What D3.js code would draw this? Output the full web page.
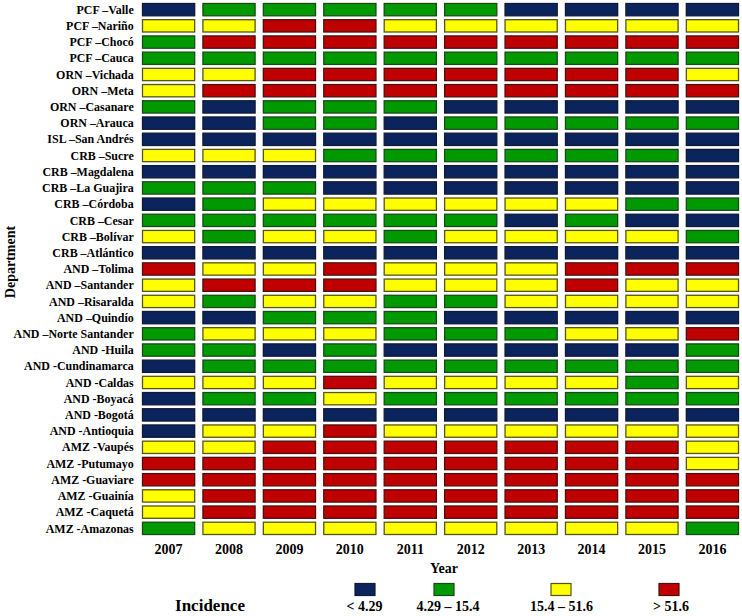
<!DOCTYPE html>
<html>
<head>
<meta charset="utf-8">
<script src="https://cdn.jsdelivr.net/npm/d3@7/dist/d3.min.js"></script>
<style>
  html, body { margin: 0; padding: 0; background: #fff; }
  svg { display: block; }
  text { font-family: "Liberation Serif", "Times New Roman", serif; font-weight: bold; fill: #000; }
</style>
</head>
<body>
<svg id="chart" width="742" height="616"></svg>
<script>
const years = ["2007","2008","2009","2010","2011","2012","2013","2014","2015","2016"];
const departments = [
  "PCF –Valle","PCF –Nariño","PCF –Chocó","PCF –Cauca",
  "ORN –Vichada","ORN –Meta","ORN –Casanare","ORN –Arauca",
  "ISL –San Andrés",
  "CRB –Sucre","CRB –Magdalena","CRB –La Guajira","CRB –Córdoba","CRB –Cesar","CRB –Bolívar","CRB –Atlántico",
  "AND –Tolima","AND –Santander","AND –Risaralda","AND –Quindío","AND –Norte Santander",
  "AND -Huila","AND -Cundinamarca","AND -Caldas","AND -Boyacá","AND -Bogotá","AND -Antioquia",
  "AMZ -Vaupés","AMZ -Putumayo","AMZ -Guaviare","AMZ -Guainía","AMZ -Caquetá","AMZ -Amazonas"
];
// incidence class per department per year: 0 "< 4.29", 1 "4.29 – 15.4", 2 "15.4 – 51.6", 3 "> 51.6"
const incidenceClass = [
  [0,1,1,1,1,1,0,0,0,0],
  [2,2,3,3,2,2,2,2,2,2],
  [1,3,3,3,3,3,3,3,3,3],
  [1,1,1,1,1,1,1,1,1,1],
  [2,2,3,3,3,3,3,3,3,2],
  [2,3,3,3,3,3,3,3,3,3],
  [1,0,1,1,1,0,0,0,0,0],
  [0,0,1,1,0,1,1,1,1,1],
  [0,0,0,0,0,0,0,0,0,0],
  [2,2,2,1,1,1,1,1,1,0],
  [0,0,0,0,0,0,0,0,0,0],
  [1,1,1,0,0,0,0,0,0,0],
  [0,1,2,2,2,2,2,2,1,1],
  [1,1,1,1,1,1,0,1,0,0],
  [2,1,2,2,1,2,2,2,2,1],
  [0,0,0,0,0,0,0,0,0,0],
  [3,2,2,3,2,2,2,3,3,3],
  [2,3,3,3,2,2,2,3,2,2],
  [2,1,2,2,1,1,2,2,2,2],
  [0,0,1,1,1,0,0,0,0,0],
  [1,2,2,2,1,1,1,2,2,3],
  [1,1,0,1,0,0,0,0,0,1],
  [0,1,1,1,1,1,1,1,1,1],
  [2,2,2,3,2,2,2,2,1,2],
  [0,1,1,2,1,1,1,1,1,1],
  [0,0,0,0,0,0,0,0,0,0],
  [0,2,2,3,2,2,2,2,2,2],
  [2,2,3,3,3,3,3,3,3,2],
  [3,3,3,3,3,3,3,3,3,2],
  [3,3,3,3,3,3,3,3,3,3],
  [2,3,3,3,3,3,3,3,3,3],
  [2,3,3,3,3,3,3,3,3,3],
  [1,2,2,2,2,2,2,2,2,1]
];
const classLabels = ["< 4.29", "4.29 – 15.4", "15.4 – 51.6", "> 51.6"];
const classColors = ["#0b245e", "#009a00", "#ffff00", "#c00000"];
const classStrokes = ["#111a33", "#1a4a1a", "#55551a", "#4a1010"];

const cells = [];
departments.forEach((d, i) => years.forEach((y, j) => cells.push({dept: d, year: y, cls: incidenceClass[i][j]})));

const svg = d3.select("#chart");

const x = d3.scaleBand().domain(years).range([142, 739]).paddingInner(0.12).paddingOuter(0);
const y = d3.scaleBand().domain(departments).range([3, 535]).paddingInner(0.18).paddingOuter(0);
const color = d3.scaleOrdinal().domain([0,1,2,3]).range(classColors);
const stroke = d3.scaleOrdinal().domain([0,1,2,3]).range(classStrokes);

svg.append("g").selectAll("rect").data(cells).join("rect")
  .attr("x", d => x(d.year) + 0.5)
  .attr("y", d => y(d.dept) + 0.5)
  .attr("width", x.bandwidth() - 1)
  .attr("height", y.bandwidth() - 1)
  .attr("fill", d => color(d.cls))
  .attr("stroke", d => stroke(d.cls))
  .attr("stroke-width", 1.3);

// y axis labels
const yAxis = d3.axisLeft(y).tickSize(0).tickPadding(9);
const gy = svg.append("g").attr("transform", "translate(142,0)").call(yAxis);
gy.select(".domain").remove();
gy.selectAll("text")
  .style("font-size", "13px").style("font-family", "'Liberation Serif', serif").style("font-weight", "bold")
  .attr("transform", "scale(0.92,1)");

// x axis labels
const xAxis = d3.axisBottom(x).tickSize(0).tickPadding(4);
const gx = svg.append("g").attr("transform", "translate(0,540)").call(xAxis);
gx.select(".domain").remove();
gx.selectAll("text").style("font-size", "14px").style("font-family", "'Liberation Serif', serif").style("font-weight", "bold");

svg.append("text").attr("x", 444).attr("y", 573).attr("text-anchor", "middle")
  .style("font-size", "14px").text("Year");
svg.append("text").attr("transform", "translate(15,262) rotate(-90)").attr("text-anchor", "middle")
  .style("font-size", "14px").text("Department");

// legend
const legendCenters = [365, 444, 561, 669];
const legendTextCenters = [364.5, 448, 561.5, 671];
const lg = svg.append("g");
lg.selectAll("rect").data(classLabels).join("rect")
  .attr("x", (d, i) => legendCenters[i] - 10)
  .attr("y", 583.5)
  .attr("width", 20).attr("height", 12)
  .attr("fill", (d, i) => classColors[i])
  .attr("stroke", (d, i) => classStrokes[i]).attr("stroke-width", 1.2);
lg.selectAll("text").data(classLabels).join("text")
  .attr("x", (d, i) => legendTextCenters[i])
  .attr("y", 611).attr("text-anchor", "middle")
  .style("font-size", "14px").text(d => d);
svg.append("text").attr("x", 210).attr("y", 611).attr("text-anchor", "middle")
  .style("font-size", "17px").text("Incidence");
</script>
</body>
</html>
